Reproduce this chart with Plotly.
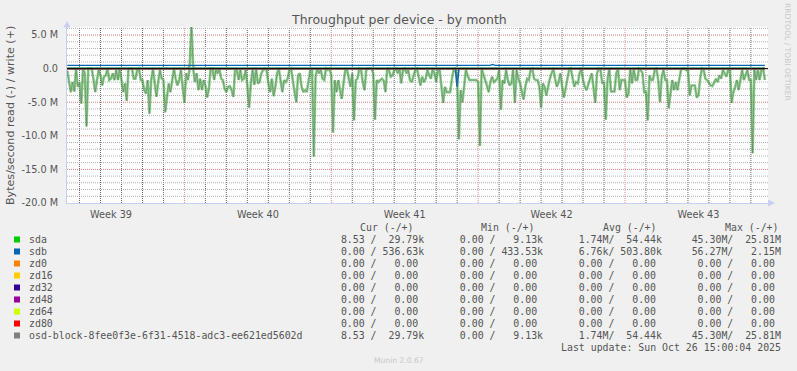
import pandas as pd
import plotly.graph_objects as go

# ------------------------------------------------------------------ data
START = "2025-09-23 10:00"      # first 2-hour sample
STEP = "2h"

# sda read throughput, MB/s (drawn as negative), one value per 2 h
sda_read_M = [
    0.3, 1.8, 3.5, 2.0, 3.4, 0.0, 2.7, 2.0, 5.2, 0.0, 0.7, 8.6,
    0.0, 0.0, 0.0, 1.7, 3.5, 1.7, 0.2, 1.0, 2.5, 1.2, 1.0, 0.0,
    1.7, 1.5, 0.7, 1.7, 0.2, 1.7, 0.0, 1.7, 3.5, 2.2, 4.8, 0.0,
    0.0, 0.0, 1.5, 1.5, 0.2, 0.0, 1.7, 1.7, 3.2, 3.7, 1.7, 6.7,
    1.7, 0.0, 2.2, 4.2, 2.0, 0.2, 1.5, 1.7, 6.5, 4.2, 2.2, 3.5,
    1.7, 0.0, 1.5, 2.5, 1.7, 0.2, 2.7, 5.1, 0.7, 1.7, 0.0, 0.0,
    0.0, 2.0, 0.7, 3.2, 1.5, 3.2, 1.7, 2.5, 4.3, 3.0, 0.0, 0.0,
    1.7, 0.2, 0.7, 0.0, 1.5, 1.7, 3.0, 3.5, 2.7, 2.6, 3.2, 4.2,
    0.0, 0.2, 1.7, 0.2, 1.7, 1.5, 0.2, 2.5, 5.8, 2.2, 0.2, 2.4,
    0.0, 2.2, 2.0, 0.7, 0.2, 0.0, 0.2, 2.2, 3.5, 1.5, 4.1, 2.7,
    0.7, 0.0, 2.2, 3.5, 1.7, 2.0, 1.5, 0.2, 0.0, 2.2, 3.5, 5.0,
    1.0, 0.7, 2.7, 3.5, 3.2, 3.5, 1.5, 0.2, 0.0, 13.1, 1.2, 0.0,
    0.7, 0.2, 1.5, 1.7, 0.0, 0.2, 0.0, 1.0, 9.5, 1.7, 3.5, 1.7,
    3.2, 4.5, 2.2, 0.2, 0.2, 1.7, 2.7, 0.7, 7.7, 1.7, 1.5, 0.0,
    0.2, 2.0, 3.2, 0.2, 0.0, 0.0, 0.0, 0.7, 7.6, 1.7, 2.0, 1.7,
    1.5, 1.8, 3.5, 0.0, 0.2, 1.2, 1.0, 0.2, 0.0, 0.7, 0.0, 2.2,
    0.2, 0.0, 0.7, 0.2, 1.7, 2.0, 1.0, 0.2, 0.0, 1.5, 2.5, 1.2,
    2.0, 1.5, 0.2, 1.0, 1.5, 0.0, 0.7, 2.0, 0.2, 0.2, 2.5, 5.1,
    2.7, 3.5, 3.5, 3.5, 1.5, 0.2, 0.0, 1.5, 10.5, 3.2, 5.0, 2.7,
    0.2, 1.0, 1.7, 1.7, 1.7, 1.7, 1.7, 2.0, 11.5, 0.0, 0.7, 1.7,
    2.5, 3.5, 2.0, 1.2, 2.0, 1.7, 1.5, 0.2, 6.1, 1.7, 2.2, 0.2,
    1.7, 2.5, 2.2, 0.2, 5.1, 0.2, 1.5, 2.2, 3.2, 4.6, 2.7, 1.5,
    1.7, 0.2, 0.0, 1.5, 1.7, 1.7, 2.7, 5.8, 2.2, 2.7, 4.0, 2.5,
    1.5, 0.7, 0.0, 1.5, 2.7, 2.0, 0.7, 2.5, 4.3, 3.0, 1.7, 0.2,
    0.0, 1.5, 2.7, 2.0, 2.2, 0.7, 0.0, 1.7, 2.7, 3.2, 2.2, 1.5,
    0.7, 2.7, 5.1, 0.7, 0.0, 0.2, 2.2, 2.0, 7.6, 1.7, 0.0, 3.4,
    3.4, 3.4, 0.7, 0.0, 3.2, 1.7, 1.7, 1.7, 4.3, 3.7, 0.0, 2.2,
    0.0, 1.7, 1.7, 0.0, 0.2, 0.7, 3.5, 3.5, 7.7, 1.0, 1.7, 1.7,
    0.2, 0.0, 1.7, 5.0, 1.2, 0.2, 1.7, 1.7, 5.9, 3.5, 1.7, 3.2,
    2.0, 3.2, 1.7, 0.2, 0.0, 0.0, 0.2, 0.0, 4.0, 2.5, 2.5, 2.5,
    4.3, 4.0, 1.5, 0.0, 0.2, 1.5, 1.7, 2.2, 2.5, 2.6, 2.0, 1.5,
    2.0, 1.0, 1.5, 0.2, 0.7, 1.2, 0.2, 0.0, 5.1, 3.5, 2.7, 1.7,
    3.2, 1.7, 0.2, 1.7, 1.0, 0.2, 1.7, 1.7, 12.6, 0.0, 1.7, 0.2,
    1.7, 0.2, 0.0, 1.7,
]
sda_write_level_M = 0.05
sda_write_peaks_M = {70: 0.4, 71: 6.6, 72: 0.3}      # sample index -> MB/s
sdb_read_level_M = 0.0
sdb_read_peaks_M = {223: 2.7}
sdb_write_level_M = 0.50
sdb_write_peaks_M = {243: 0.62}

# legend table
dev_names = ["sda", "sdb", "zd0", "zd16", "zd32", "zd48", "zd64", "zd80",
             "osd-block-8fee0f3e-6f31-4518-adc3-ee621ed5602d"]
dev_colors = ["#00CC00", "#0066B3", "#FF8000", "#FFCC00", "#330099",
              "#990099", "#CCFF00", "#FF0000", "#808080"]
cur_vals = [("8.53", "29.79k"), ("0.00", "536.63k")] + [("0.00", "0.00")] * 6 + [("8.53", "29.79k")]
min_vals = [("0.00", "9.13k"), ("0.00", "433.53k")] + [("0.00", "0.00")] * 6 + [("0.00", "9.13k")]
avg_vals = [("1.74M", "54.44k"), ("6.76k", "503.80k")] + [("0.00", "0.00")] * 6 + [("1.74M", "54.44k")]
max_vals = [("45.30M", "25.81M"), ("56.27M", "2.15M")] + [("0.00", "0.00")] * 6 + [("45.30M", "25.81M")]
col_headers = ["Cur (-/+)", "Min (-/+)", "Avg (-/+)", "Max (-/+)"]
week_labels = ["Week 39", "Week 40", "Week 41", "Week 42", "Week 43"]
week_mondays = ["2025-09-22", "2025-09-29", "2025-10-06", "2025-10-13", "2025-10-20"]
title_text = "Throughput per device - by month"
ytitle_text = "Bytes/second read (-) / write (+)"
last_update = "Last update: Sun Oct 26 15:00:04 2025"

# ------------------------------------------------------------------ build series
N = len(sda_read_M)
t = pd.date_range(START, periods=N, freq=STEP)
M = 1e6


def series(level, peaks):
    v = [level] * N
    for k, val in peaks.items():
        v[k] = val
    return v


sda_r = [-v * M for v in sda_read_M]
sda_w = [v * M for v in series(sda_write_level_M, sda_write_peaks_M)]
sdb_r = [-v * M for v in series(sdb_read_level_M, sdb_read_peaks_M)]
sdb_w = [v * M for v in series(sdb_write_level_M, sdb_write_peaks_M)]
zero = [0.0] * N

# ------------------------------------------------------------------ geometry
W, H = 797, 371
PL, PR, PT, PB = 67, 768, 27, 203


def px(x):
    return (x - PL) / (PR - PL)


def py(y):
    return (PB - y) / (PB - PT)


FONT = "DejaVu Sans"
MONO = "DejaVu Sans Mono"
TXT = "#555555"

xr = ["2025-09-23 09:40", "2025-10-26 19:35"]
xr_ts = [pd.Timestamp(v) for v in xr]
yr = [-20e6, 6.2e6]
thursdays = [(pd.Timestamp(d) + pd.Timedelta(hours=84)) for d in week_mondays]
MINOR_V = "#6A6A6A"
MINOR_H = "#B2B2B2"
MAJOR_V = "#E08C8C"
MAJOR_H = "#DC8080"
AXIS = "#C9CEF3"
DOT = "1px,1px"

fig = go.Figure()

# ---- grid drawn as dotted line traces on the axis scales (behind data)
day_lines = pd.date_range("2025-09-24", "2025-10-26", freq="1D")
minor_x = [d for d in day_lines if d.weekday() != 0]
major_x = [pd.Timestamp(d) for d in week_mondays[1:]]
minor_y = [v * M for v in range(-19, 7) if v % 5 != 0]
major_y = [v * M for v in (-15, -10, -5, 0, 5)]


def vlines(xs):
    X, Y = [], []
    for x in xs:
        X += [x, x, None]
        Y += [yr[0], yr[1], None]
    return X, Y


def hlines(ys):
    X, Y = [], []
    for y in ys:
        X += [xr_ts[0], xr_ts[1], None]
        Y += [y, y, None]
    return X, Y


for xs, ys, colr in [(*vlines(minor_x), MINOR_V), (*hlines(minor_y), MINOR_H),
                     (*vlines(major_x), MAJOR_V), (*hlines(major_y), MAJOR_H)]:
    fig.add_trace(go.Scatter(x=xs, y=ys, mode="lines", line=dict(color=colr, width=1, dash=DOT),
                             hoverinfo="skip", connectgaps=False))

GREEN = "rgba(40,175,40,0.55)"
GREY = "rgba(110,110,110,0.6)"

# sda
fig.add_trace(go.Scatter(x=t, y=sda_r, mode="lines", line=dict(color=GREEN, width=2.6), hoverinfo="skip"))
fig.add_trace(go.Scatter(x=t, y=sda_w, mode="lines", line=dict(color=GREEN, width=2.6), hoverinfo="skip"))
# sdb
fig.add_trace(go.Scatter(x=t, y=sdb_r, mode="lines", line=dict(color="#0066B3", width=1.6), hoverinfo="skip"))
fig.add_trace(go.Scatter(x=t, y=sdb_w, mode="lines", line=dict(color="#0066B3", width=1.2), hoverinfo="skip"))
# zd devices (all zero)
for c in dev_colors[2:8]:
    fig.add_trace(go.Scatter(x=t, y=zero, mode="lines", line=dict(color=c, width=1), hoverinfo="skip"))
# osd-block (same as sda)
fig.add_trace(go.Scatter(x=t, y=sda_r, mode="lines", line=dict(color=GREY, width=0.9), hoverinfo="skip"))
fig.add_trace(go.Scatter(x=t, y=sda_w, mode="lines", line=dict(color=GREY, width=0.9), hoverinfo="skip"))

fig.update_layout(
    width=W, height=H,
    margin=dict(l=PL, r=W - PR, t=PT, b=H - PB, pad=0),
    paper_bgcolor="#F0F0F0", plot_bgcolor="#FFFFFF",
    showlegend=False,
    xaxis=dict(type="date", range=xr, tickmode="array", tickvals=thursdays, ticktext=week_labels,
               tickfont=dict(family=FONT, size=9.7, color=TXT), ticks="", ticklabelstandoff=2,
               showgrid=False, showline=True, linecolor=AXIS, linewidth=1,
               zeroline=False, fixedrange=True),
    yaxis=dict(range=yr, tickmode="array",
               tickvals=[-20e6, -15e6, -10e6, -5e6, 0, 5e6],
               ticktext=["-20.0 M", "-15.0 M", "-10.0 M", "-5.0 M", "0.0", "5.0 M"],
               tickfont=dict(family=FONT, size=9.7, color=TXT),
               ticks="", ticklabelstandoff=6, showgrid=False,
               showline=True, linecolor=AXIS, linewidth=1, zeroline=False, fixedrange=True),
)

shapes = [
    # zero rule
    dict(type="line", xref="paper", yref="y", x0=0, x1=1, y0=0, y1=0,
         line=dict(color="#000000", width=1), layer="above"),
    # axis arrows
    dict(type="path", xref="paper", yref="paper",
         path=f"M {px(63.5)},{py(27.5)} L {px(70.5)},{py(27.5)} L {px(67)},{py(21)} Z",
         fillcolor=AXIS, line=dict(width=0)),
    dict(type="path", xref="paper", yref="paper",
         path=f"M {px(768)},{py(199.5)} L {px(768)},{py(206.5)} L {px(775)},{py(203)} Z",
         fillcolor=AXIS, line=dict(width=0)),
]

annotations = [
    dict(text=title_text, x=px(398.5), y=py(19), xref="paper", yref="paper",
         showarrow=False, xanchor="center", yanchor="middle",
         font=dict(family=FONT, size=12.5, color=TXT)),
    dict(text=ytitle_text, x=px(11), y=py(116), xref="paper", yref="paper",
         showarrow=False, xanchor="center", yanchor="middle", textangle=-90,
         font=dict(family=FONT, size=11.1, color=TXT)),
    dict(text="RRDTOOL / TOBI OETIKER", x=px(788), y=py(53), xref="paper", yref="paper",
         showarrow=False, xanchor="center", yanchor="middle", textangle=90,
         font=dict(family=FONT, size=7.6, color="#C8C8C8")),
    dict(text="Munin 2.0.67", x=px(398.5), y=py(360), xref="paper", yref="paper",
         showarrow=False, xanchor="center", yanchor="middle",
         font=dict(family=FONT, size=7.6, color="#C8C8C8")),
]

NB = "\u00a0"
header_x = [358, 479, 601, 723]
for hx, h in zip(header_x, col_headers):
    annotations.append(dict(text=h.replace(" ", NB), x=px(hx), y=py(227.5), xref="paper", yref="paper",
                            showarrow=False, xanchor="left", yanchor="middle",
                            font=dict(family=MONO, size=9.9, color=TXT)))


def field(s, w):
    s2 = s if s[-1].isalpha() else s + " "
    return s2.rjust(w)


def col(pair):
    return field(pair[0], 7) + "/" + field(pair[1], 8)


for k, name in enumerate(dev_names):
    yc = 239.5 + 12 * k
    shapes.append(dict(type="rect", xref="paper", yref="paper",
                       x0=px(14), x1=px(20), y0=py(yc - 3), y1=py(yc + 3),
                       fillcolor=dev_colors[k], line=dict(width=0)))
    annotations.append(dict(text=name, x=px(27), y=py(yc), xref="paper", yref="paper",
                            showarrow=False, xanchor="left", yanchor="middle",
                            font=dict(family=MONO, size=9.9, color=TXT)))
    row = "    ".join([col(cur_vals[k]), col(min_vals[k]), col(avg_vals[k]), col(max_vals[k])])
    annotations.append(dict(text=row.replace(" ", NB), x=px(783), y=py(yc), xref="paper", yref="paper",
                            showarrow=False, xanchor="right", yanchor="middle",
                            font=dict(family=MONO, size=9.9, color=TXT)))

annotations.append(dict(text=last_update.replace(" ", NB), x=px(783), y=py(347.5),
                        xref="paper", yref="paper", showarrow=False,
                        xanchor="right", yanchor="middle",
                        font=dict(family=MONO, size=9.9, color=TXT)))

fig.update_layout(shapes=shapes, annotations=annotations)
fig.write_html("out.html", include_plotlyjs=True, config={"displayModeBar": False, "staticPlot": True})
